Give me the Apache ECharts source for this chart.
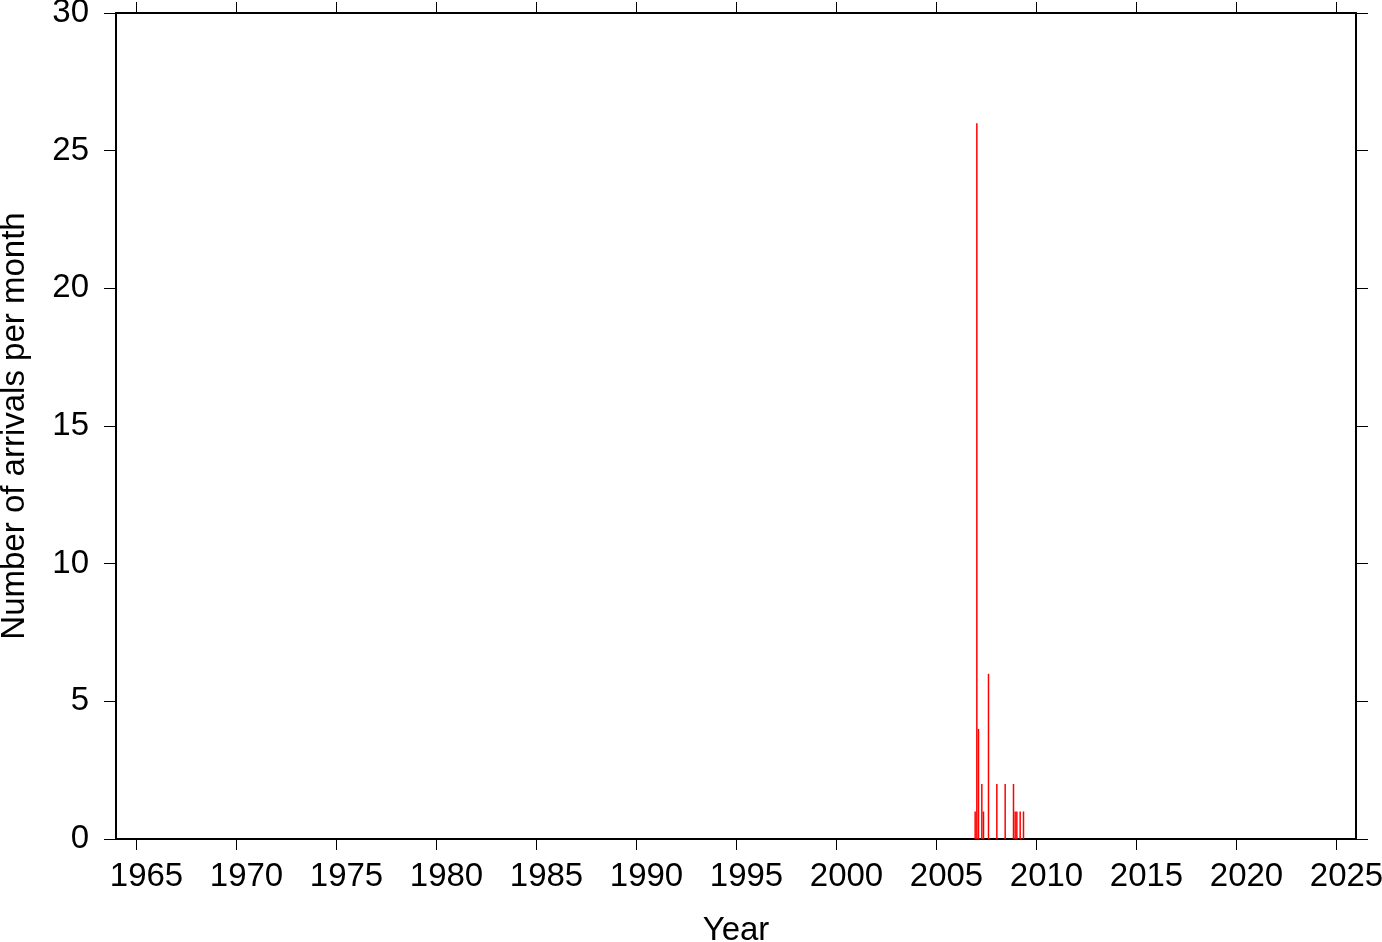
<!DOCTYPE html>
<html>
<head>
<meta charset="utf-8">
<script src="https://cdn.jsdelivr.net/npm/echarts@6/dist/echarts.min.js"></script>
<style>
html,body{margin:0;padding:0;background:#fff;}
#chart{width:1382px;height:942px;}
</style>
</head>
<body>
<div id="chart"></div>
<script>
// Data (month of arrival, count per month)
const months = ['2006-12','2007-01','2007-02','2007-04','2007-05','2007-08','2008-01','2008-06','2008-11','2008-12','2009-01','2009-03','2009-05'];
const counts = [1, 26, 4, 2, 1, 6, 2, 2, 2, 1, 1, 1, 1];
const yearTicks = [1965,1970,1975,1980,1985,1990,1995,2000,2005,2010,2015,2020,2025];
const xMin = 1964, xMax = 2026;
const yMin = 0, yMax = 30, yStep = 5;

const data = months.map((m, i) => {
  const [y, mo] = m.split('-').map(Number);
  return [y + (mo - 0.5) / 12, counts[i]];
});

const FONT = 'Liberation Sans, Arial, Helvetica, sans-serif';
const lineStyle = {color: '#000', width: 2};
const chart = echarts.init(document.getElementById('chart'), null, {renderer: 'canvas'});
chart.setOption({
  animation: false,
  backgroundColor: '#fff',
  grid: {left: 116, right: 26, top: 13, bottom: 103, containLabel: false, outerBoundsMode: 'none'},
  xAxis: [{
    type: 'value', min: xMin, max: xMax, position: 'bottom',
    name: 'Year', nameLocation: 'middle', nameGap: 75,
    nameTextStyle: {fontFamily: FONT, fontSize: 33, color: '#000'},
    axisLine: {show: true, onZero: false, lineStyle: lineStyle},
    axisTick: {show: true, length: 11, customValues: yearTicks, lineStyle: {color: '#000', width: 1}},
    axisLabel: {show: true, customValues: yearTicks, formatter: v => String(v), margin: 21, padding: [0, 0, 0, 21], fontFamily: FONT, fontSize: 33, color: '#000'},
    splitLine: {show: false}
  }, {
    type: 'value', min: xMin, max: xMax, position: 'top',
    axisLine: {show: true, onZero: false, lineStyle: lineStyle},
    axisTick: {show: true, length: 11, customValues: yearTicks, lineStyle: {color: '#000', width: 1}},
    axisLabel: {show: false},
    splitLine: {show: false}
  }],
  yAxis: [{
    type: 'value', min: yMin, max: yMax, interval: yStep, position: 'left',
    name: 'Number of arrivals per month', nameLocation: 'middle', nameGap: 85,
    nameTextStyle: {fontFamily: FONT, fontSize: 33, color: '#000'},
    axisLine: {show: true, onZero: false, lineStyle: lineStyle},
    axisTick: {show: true, length: 12, lineStyle: {color: '#000', width: 1}},
    axisLabel: {show: true, margin: 27, fontFamily: FONT, fontSize: 33, color: '#000'},
    splitLine: {show: false}
  }, {
    type: 'value', min: yMin, max: yMax, interval: yStep, position: 'right',
    axisLine: {show: true, onZero: false, lineStyle: lineStyle},
    axisTick: {show: true, length: 12, lineStyle: {color: '#000', width: 1}},
    axisLabel: {show: false},
    splitLine: {show: false}
  }],
  series: [{
    type: 'bar', xAxisIndex: 0, yAxisIndex: 0,
    data: data, barWidth: 1.5,
    itemStyle: {color: '#ff0000'},
    silent: true
  }]
});
</script>
</body>
</html>
